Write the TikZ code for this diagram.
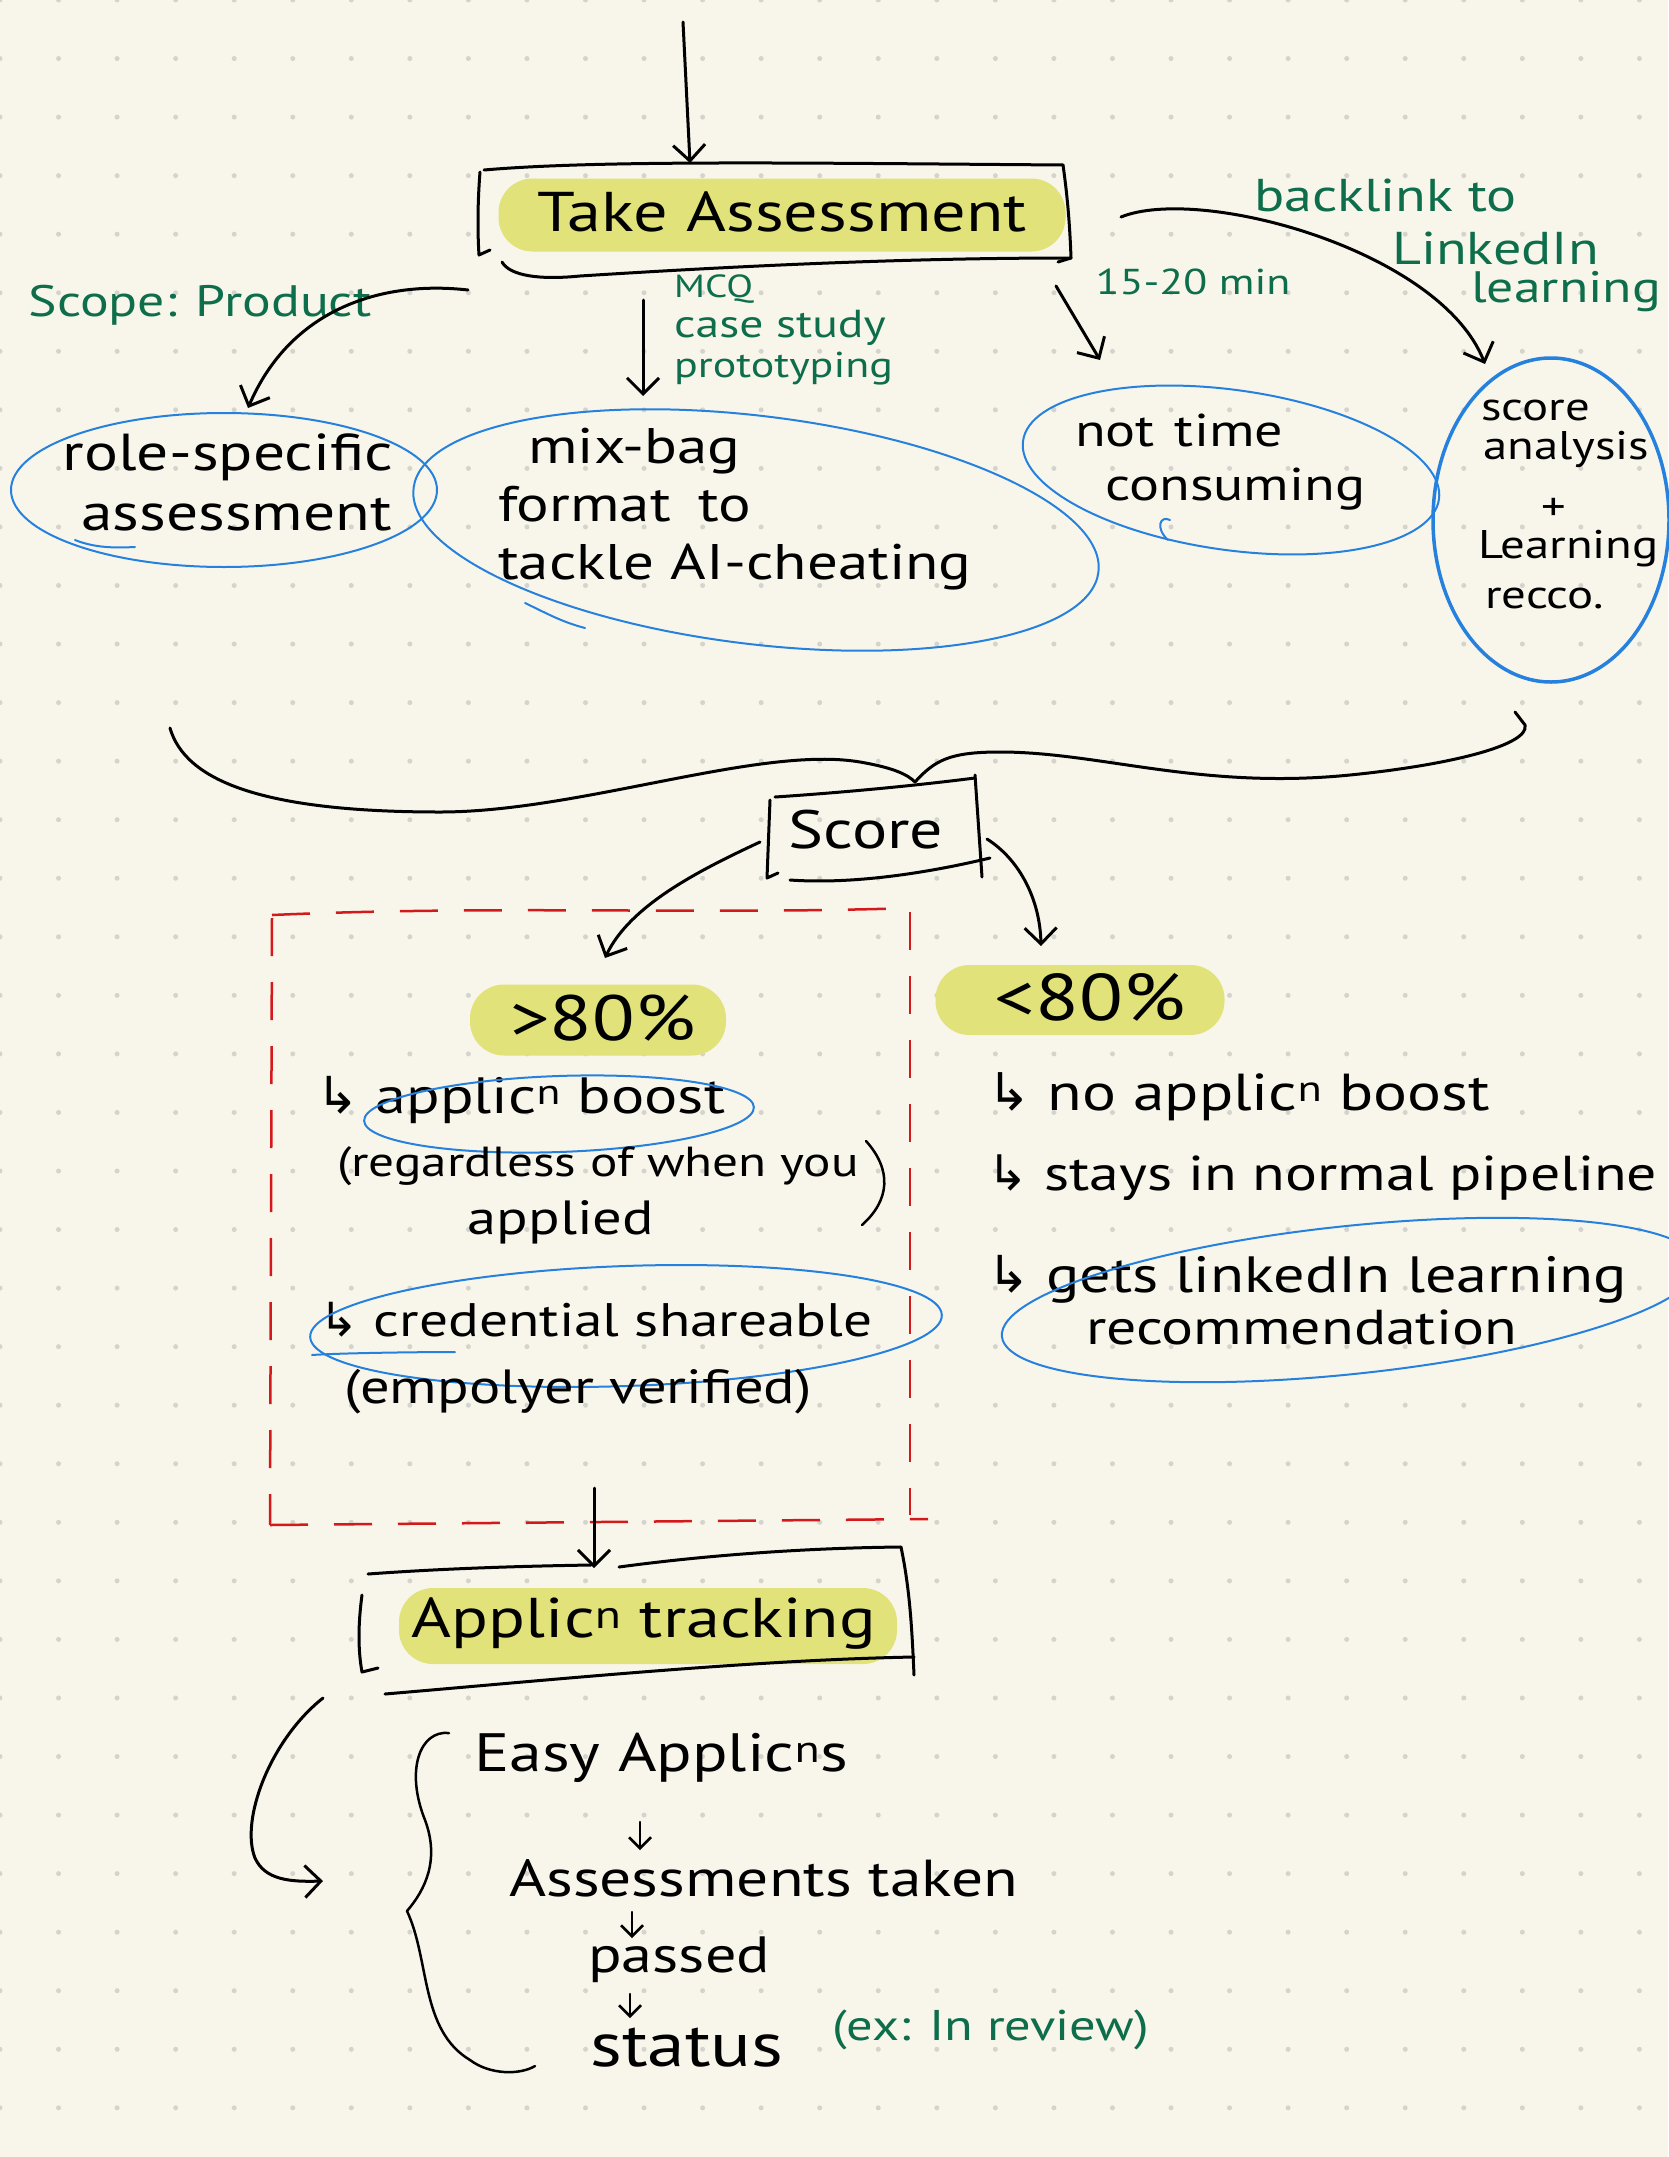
\documentclass[tikz,border=0pt]{standalone}
\usepackage{fontspec}
\setmainfont{PT Sans}[FakeStretch=1.22]
\newfontfamily\symfont{DejaVu Sans}
\usetikzlibrary{arrows.meta,shapes.geometric}
\definecolor{paper}{HTML}{F8F6EA}
\definecolor{dotc}{HTML}{D4D3CD}
\definecolor{hl}{HTML}{E1E27A}
\definecolor{inkblue}{HTML}{2680DE}
\definecolor{inkgreen}{HTML}{0E6E4C}
\definecolor{inkred}{HTML}{D3191C}
\newcommand{\hookarr}{{\symfont ↳}\ }
\newcommand{\fsz}[1]{\fontsize{#1}{#1}\selectfont}
\begin{document}
\begin{tikzpicture}[x=1pt,y=-1pt,
  ink/.style={line width=3pt, black, line cap=round, line join=round},
  arr/.style={ink, -{Straight Barb[length=16pt,width=32pt,line width=3pt]}},
  smallarr/.style={line width=2.5pt, black, line cap=round, -{Straight Barb[length=11pt,width=22pt,line width=2.5pt]}},
  note/.style={text=inkgreen, font=\fsz{40}, inner sep=0pt},
  txt/.style={text=black, font=\fsz{50}, inner sep=0pt},
  hlbox/.style={fill=hl, rounded corners=34pt, draw=none, inner sep=0pt},
  bubble/.style={draw=inkblue, line width=2pt, ellipse, inner sep=0pt},
  bluestroke/.style={draw=inkblue, line width=2pt, line cap=round},
  redline/.style={draw=inkred, line width=2.5pt, dash pattern=on 38pt off 26pt},
]
\fill[paper] (0,0) rectangle (1668,2157);
\useasboundingbox (0,0) rectangle (1668,2157);
\foreach \i in {0,...,28} \foreach \j in {0,...,36} \fill[dotc] (\i*58.55,\j*58.55) circle (2.5pt);

% ---------- Take Assessment ----------
\node[hlbox, minimum width=567pt, minimum height=73pt] (takehl) at (782,215) {};
\node[txt, font=\fsz{56}] (take) at (782,212) {Take Assessment};
\coordinate (tTL) at (484,170);
\coordinate (tTR) at (1063,165);
\coordinate (tBR) at (1071,258);
\coordinate (tBL) at (502,262);
\draw[ink] (tTL) .. controls (600,160) and (800,163) .. (tTR);
\draw[ink] (tTR) .. controls (1068,200) and (1070,230) .. (tBR) -- (1058,262);
\draw[ink] (480,172) .. controls (477,210) and (478,240) .. (479,255) -- (490,250);
\draw[ink] (tBL) .. controls (510,276) and (540,280) .. (580,276) .. controls (800,262) and (950,258) .. (tBR);
\coordinate (topstart) at (683,22);
\coordinate (taketop) at (690,163);
\draw[arr] (topstart) -- (taketop);

% ---------- green annotations ----------
\node[note, font=\fsz{44}] (scope) at (200,305) {Scope: Product};
\node[note, anchor=west, font=\fsz{32}] (mcq) at (674,289) {MCQ};
\node[note, anchor=west, font=\fsz{39}] (case) at (674,328) {case study};
\node[note, anchor=west, font=\fsz{36}] (proto) at (674,369) {prototyping};
\node[note, font=\fsz{36}] (mins) at (1193,282) {15-20 min};
\node[note, anchor=west, font=\fsz{46}] (bl1) at (1254,195) {backlink to};
\node[note, anchor=west, font=\fsz{46}] (bl2) at (1392,248) {LinkedIn};
\node[note, anchor=west, font=\fsz{44}] (bl3) at (1471,292) {learning};

% ---------- bubbles row ----------
\node[bubble, minimum width=426pt, minimum height=154pt] (role) at (224,490) {};
\node[txt, font=\fsz{52}, align=center] (roletxt) at (228,482) {role-specific\\[8pt]\ assessment};
\draw[bluestroke] (75,540) .. controls (95,548) and (115,548) .. (135,547);

\node[bubble, minimum width=690pt, minimum height=228pt, rotate=-7] (mix) at (756,530) {};
\node[txt, font=\fsz{50}, anchor=north west, align=left] (mixtxt) at (498,428) {\hspace{30pt}mix-bag\\[8pt]format\hspace{28pt}to\\[8pt]tackle AI-cheating};
\draw[bluestroke] (525,603) .. controls (548,614) and (562,622) .. (585,628);

\node[bubble, minimum width=420pt, minimum height=160pt, rotate=-8] (notime) at (1231,470) {};
\node[txt, font=\fsz{46}, anchor=north west, align=left] (notimetxt) at (1075,414) {not\hspace{20pt}time\\[8pt]\hspace{30pt}consuming};
\draw[bluestroke] (1170,520) .. controls (1160,515) and (1155,528) .. (1168,540);

\node[bubble, line width=3.5pt, minimum width=236pt, minimum height=324pt] (score) at (1551,520) {};
\node[txt, font=\fsz{40}, anchor=west] (sc1t) at (1481,410) {score};
\node[txt, font=\fsz{40}, anchor=west] (sc2t) at (1483,449) {analysis};
\node[txt, font=\fsz{40}] (sc3t) at (1554,509) {+};
\node[txt, font=\fsz{40}, anchor=west] (sc4t) at (1478,549) {Learning};
\node[txt, font=\fsz{40}, anchor=west] (sc5t) at (1485,598) {recco.};

% arrows from Take Assessment
\coordinate (s1) at (468,290);
\coordinate (roleTop) at (248,408);
\draw[arr] (s1) .. controls (380,280) and (290,310) .. (roleTop);
\coordinate (s2) at (643,300);
\coordinate (mixTop) at (643,396);
\draw[arr] (s2) -- (mixTop);
\coordinate (s3) at (1056,286);
\coordinate (notimeTop) at (1100,360);
\draw[arr] (s3) -- (notimeTop);
\coordinate (s4) at (1121,217);
\coordinate (scoreTop) at (1485,364);
\draw[arr] (s4) .. controls (1200,185) and (1440,250) .. (scoreTop);

% ---------- converging curve ----------
\coordinate (cL) at (170,728);
\coordinate (cusp) at (915,782);
\coordinate (cR) at (1515,712);
\draw[ink] (cL) .. controls (185,780) and (260,812) .. (440,812) .. controls (580,812) and (760,745) .. (860,762) .. controls (895,768) and (908,775) .. (cusp);
\draw[ink] (cusp) .. controls (935,760) and (950,752) .. (1000,752) .. controls (1100,752) and (1200,790) .. (1350,775) .. controls (1450,765) and (1530,745) .. (1525,725) -- (cR);

% ---------- Score box ----------
\node[txt, font=\fsz{54}] (scorebox) at (866,830) {Score};
\draw[ink] (775,797) .. controls (850,792) and (920,785) .. (975,778);
\draw[ink] (975,775) -- (982,877);
\draw[ink] (770,800) -- (767,878) -- (778,873);
\draw[ink] (790,880) .. controls (860,885) and (940,870) .. (990,858);

% ---------- red dashed box ----------
\draw[redline] (272,915) .. controls (500,905) and (700,915) .. (911,908);
\draw[redline] (910,912) -- (910,1515);
\draw[redline] (272,918) -- (270,1525);
\draw[redline] (270,1525) -- (928,1519);

% ---------- >80% / <80% ----------
\node[hlbox, minimum width=256pt, minimum height=71pt] (gthl) at (598,1020) {};
\node[txt, font=\fsz{64}] (gt) at (603,1018) {>80\%};
\node[hlbox, minimum width=289pt, minimum height=70pt] (lthl) at (1080,1000) {};
\node[txt, font=\fsz{66}] (lt) at (1090,997) {<80\%};
\coordinate (sc1) at (760,842);
\coordinate (gttop) at (605,958);
\draw[arr] (sc1) .. controls (700,870) and (630,905) .. (gttop);
\coordinate (sc2) at (987,839);
\coordinate (lttop) at (1041,946);
\draw[arr] (sc2) .. controls (1020,860) and (1040,900) .. (lttop);

% left list
\node[txt, font=\fsz{51}, anchor=west] (l1) at (316,1100) {\hookarr applic\textsuperscript{n} boost};
\node[bubble, minimum width=390pt, minimum height=76pt, rotate=2] (l1e) at (559,1114) {};
\node[txt, font=\fsz{42}, anchor=west] (l2) at (337,1166) {(regardless of when you};
\draw[ink, line width=2.5pt] (866,1141) .. controls (892,1170) and (890,1200) .. (862,1225);
\node[txt, font=\fsz{48}] (l3) at (561,1222) {applied};
\node[txt, font=\fsz{47}, anchor=west] (l4) at (319,1320) {\hookarr credential shareable};
\node[bubble, minimum width=632pt, minimum height=120pt, rotate=2] (l4e) at (626,1326) {};
\draw[bluestroke] (312,1355) .. controls (340,1353) and (420,1352) .. (455,1352);
\node[txt, font=\fsz{48}, anchor=west] (l5) at (344,1392) {(empolyer verified)};

% right list
\node[txt, font=\fsz{52}, anchor=west] (r1) at (987,1097) {\hookarr no applic\textsuperscript{n} boost};
\node[txt, font=\fsz{49}, anchor=west] (r2) at (987,1178) {\hookarr stays in normal pipeline};
\node[txt, font=\fsz{51}, anchor=west] (r3) at (987,1279) {\hookarr gets linkedIn learning};
\node[txt, font=\fsz{49}, anchor=west] (r4) at (1086,1327) {recommendation};
\node[bubble, minimum width=700pt, minimum height=148pt, rotate=6] (r3e) at (1350,1300) {};

% ---------- Applicn tracking ----------
\coordinate (dbot) at (594,1488);
\coordinate (attop) at (594,1568);
\draw[arr] (dbot) -- (attop);
\node[hlbox, minimum width=498pt, minimum height=76pt] (athl) at (648,1626) {};
\node[txt, font=\fsz{56}] (at) at (644,1624) {Applic\textsuperscript{n} tracking};
\draw[ink] (368,1574) .. controls (450,1568) and (530,1566) .. (591,1565);
\draw[ink] (619,1567) .. controls (700,1556) and (800,1548) .. (901,1547);
\draw[ink] (901,1547) .. controls (910,1590) and (912,1630) .. (914,1675);
\draw[ink] (362,1595) .. controls (358,1625) and (358,1650) .. (362,1672) -- (378,1668);
\draw[ink] (385,1694) .. controls (550,1680) and (750,1660) .. (914,1657);

% ---------- bottom flow ----------
\coordinate (la1) at (323,1698);
\coordinate (la2) at (323,1881);
\draw[arr] (la1) .. controls (270,1740) and (240,1820) .. (255,1858) .. controls (265,1880) and (290,1882) .. (la2);
\draw[ink, line width=2.5pt] (449,1733) .. controls (420,1730) and (405,1770) .. (425,1820) .. controls (440,1860) and (425,1890) .. (407,1911) .. controls (430,1960) and (420,2030) .. (470,2060) .. controls (490,2075) and (520,2075) .. (535,2066);

\node[txt, font=\fsz{54}, anchor=west] (easy) at (474,1758) {Easy Applic\textsuperscript{n}s};
\node[txt, font=\fsz{52}, anchor=west] (taken) at (509,1878) {Assessments taken};
\node[txt, font=\fsz{51}, anchor=west] (passed) at (588,1960) {passed};
\node[txt, font=\fsz{62}, anchor=west] (status) at (590,2048) {status};
\node[note, font=\fsz{43}, anchor=west] (ex) at (832,2030) {(ex: In review)};
\coordinate (a1s) at (640,1822);
\coordinate (a1e) at (640,1850);
\draw[smallarr] (a1s) -- (a1e);
\coordinate (a2s) at (632,1912);
\coordinate (a2e) at (632,1938);
\draw[smallarr] (a2s) -- (a2e);
\coordinate (a3s) at (630,1994);
\coordinate (a3e) at (630,2018);
\draw[smallarr] (a3s) -- (a3e);
\end{tikzpicture}
\end{document}
